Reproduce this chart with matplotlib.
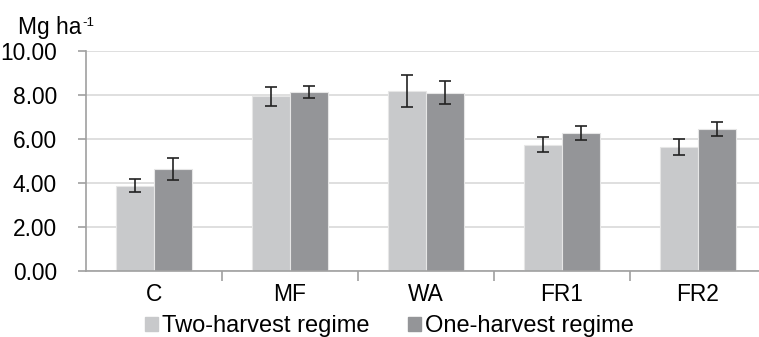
import numpy as np
from matplotlib import pyplot as plt
from matplotlib.patches import Patch

plt.rcParams['font.family'] = ['Liberation Sans', 'DejaVu Sans']

categories = ['C', 'MF', 'WA', 'FR1', 'FR2']
two_harvest = [3.85, 7.92, 8.15, 5.72, 5.63]
two_err = [0.29, 0.42, 0.72, 0.35, 0.36]
one_harvest = [4.60, 8.10, 8.08, 6.24, 6.43]
one_err = [0.50, 0.28, 0.52, 0.33, 0.33]
series_names = ['Two-harvest regime', 'One-harvest regime']

light = '#c8c9cb'
dark = '#949598'
fs = 16.4

fig = plt.figure(figsize=(7.59, 3.37), dpi=100)
ax = fig.add_axes([86 / 759, 1 - 270.5 / 337, 680 / 759, 220 / 337])

x = np.arange(len(categories))
w = 0.283
ax.bar(x - w / 2, two_harvest, w, color=light, edgecolor='#e6e6e6', linewidth=0.8, zorder=2)
ax.bar(x + w / 2, one_harvest, w, color=dark, edgecolor='#e6e6e6', linewidth=0.8, zorder=2)
ax.errorbar(x - w / 2, two_harvest, yerr=two_err, fmt='none', ecolor='#222222',
            elinewidth=1.2, capsize=4.5, capthick=1.2, zorder=3)
ax.errorbar(x + w / 2, one_harvest, yerr=one_err, fmt='none', ecolor='#222222',
            elinewidth=1.2, capsize=4.5, capthick=1.2, zorder=3)

ax.set_xlim(-0.5, len(categories) - 0.5)
ax.set_ylim(0, 10)
ax.set_yticks(np.arange(0, 10.01, 2))
ax.set_yticklabels(['%.2f' % v for v in np.arange(0, 10.01, 2)], fontsize=fs)
ax.yaxis.grid(True, color='#d9d9d9', linewidth=1.2, zorder=0)
ax.set_axisbelow(True)

ax.set_xticks(x)
ax.set_xticklabels(categories, fontsize=fs)
ax.tick_params(axis='x', which='major', length=0, pad=9)
ax.set_xticks(np.arange(0.5, len(categories) - 0.5, 1), minor=True)
ax.tick_params(axis='x', which='minor', length=7, color='#a0a0a0', width=1.2)
ax.tick_params(axis='y', length=6, color='#a0a0a0', width=1.2, pad=15)

for s in ['top', 'right']:
    ax.spines[s].set_visible(False)
for s in ['left', 'bottom']:
    ax.spines[s].set_color('#a0a0a0')
    ax.spines[s].set_linewidth(1.2)

# unit label with a plain hyphen superscript
fig.text(18 / 759, 1 - 34 / 337, 'Mg ha', fontsize=fs, va='baseline')
fig.text(82 / 759, 1 - 25.5 / 337, '-1', fontsize=9.5, va='baseline')

handles = [Patch(color=light), Patch(color=dark)]
fig.legend(handles, series_names, loc='center', bbox_to_anchor=(0.513, 1 - 326 / 337),
           ncol=2, frameon=False, fontsize=17, handlelength=0.55, handleheight=0.55,
           handletextpad=0.17, columnspacing=1.6, borderpad=0)

fig.savefig('out.png', dpi=100)
